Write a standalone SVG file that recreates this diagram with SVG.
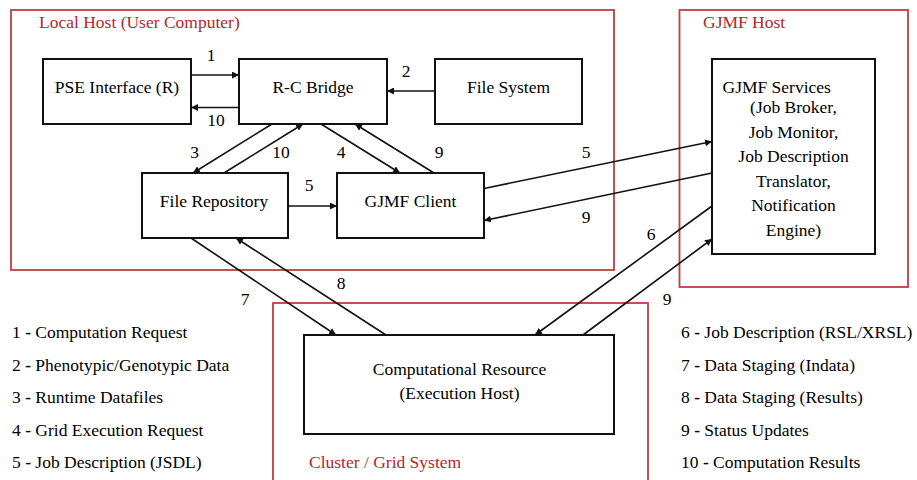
<svg xmlns="http://www.w3.org/2000/svg" width="917" height="480" viewBox="0 0 917 480">
  <style>
    .zone { fill: none; stroke: #bd3f42; stroke-width: 1.8; }
    .zone-title { font-family: 'Liberation Serif', serif; font-size: 17.5px; fill: #b0282d; }
    .box { fill: #fff; stroke: #111; stroke-width: 2; }
    .link { stroke: #111; stroke-width: 1.6; fill: none; marker-end: url(#head); }
  </style>
  <defs>
    <marker id="head" viewBox="0 0 10 10" refX="10" refY="5" markerWidth="7" markerHeight="7" markerUnits="userSpaceOnUse" orient="auto">
      <path d="M0,0 L10,5 L0,10 z" fill="#111"/>
    </marker>
  </defs>

  <rect width="917" height="480" fill="#fff"/>

  <!-- system zones -->
  <g id="zone-local">
    <rect class="zone" x="11" y="10" width="603" height="260"/>
    <text class="zone-title" x="39" y="28">Local Host (User Computer)</text>
  </g>
  <g id="zone-gjmf">
    <rect class="zone" x="679.5" y="10" width="228.5" height="277"/>
    <text class="zone-title" x="703" y="28">GJMF Host</text>
  </g>
  <g id="zone-cluster">
    <rect class="zone" x="273" y="303" width="375" height="190"/>
    <text class="zone-title" x="309" y="467.5">Cluster / Grid System</text>
  </g>

  <!-- components -->
  <g id="pse">
    <rect class="box" x="43" y="59" width="148" height="65"/>
    <text font-family="Liberation Serif" font-size="17.5" text-anchor="middle" x="117" y="93">PSE Interface (R)</text>
  </g>
  <g id="rc-bridge">
    <rect class="box" x="239" y="59" width="148" height="65"/>
    <text font-family="Liberation Serif" font-size="17.5" text-anchor="middle" x="313" y="93">R-C Bridge</text>
  </g>
  <g id="file-system">
    <rect class="box" x="435" y="59" width="147" height="65"/>
    <text font-family="Liberation Serif" font-size="17.5" text-anchor="middle" x="508.5" y="93">File System</text>
  </g>
  <g id="file-repository">
    <rect class="box" x="142" y="173" width="146" height="65"/>
    <text font-family="Liberation Serif" font-size="17.5" text-anchor="middle" x="214" y="207">File Repository</text>
  </g>
  <g id="gjmf-client">
    <rect class="box" x="337" y="173" width="147" height="65"/>
    <text font-family="Liberation Serif" font-size="17.5" text-anchor="middle" x="410.5" y="207">GJMF Client</text>
  </g>
  <g id="gjmf-services">
    <rect class="box" x="712" y="59" width="163" height="195"/>
    <text font-family="Liberation Serif" font-size="17.5" x="722.5" y="93">GJMF Services</text>
    <text font-family="Liberation Serif" font-size="17.5" text-anchor="middle" x="793.5" y="113">(Job Broker,</text>
    <text font-family="Liberation Serif" font-size="17.5" text-anchor="middle" x="793.5" y="137.5">Job Monitor,</text>
    <text font-family="Liberation Serif" font-size="17.5" text-anchor="middle" x="793.5" y="162">Job Description</text>
    <text font-family="Liberation Serif" font-size="17.5" text-anchor="middle" x="793.5" y="186.5">Translator,</text>
    <text font-family="Liberation Serif" font-size="17.5" text-anchor="middle" x="793.5" y="211">Notification</text>
    <text font-family="Liberation Serif" font-size="17.5" text-anchor="middle" x="793.5" y="235.5">Engine)</text>
  </g>
  <g id="compute-resource">
    <rect class="box" x="304" y="335" width="310" height="99"/>
    <text font-family="Liberation Serif" font-size="17.5" text-anchor="middle" x="459.5" y="374.5">Computational Resource</text>
    <text font-family="Liberation Serif" font-size="17.5" text-anchor="middle" x="459.5" y="398.5">(Execution Host)</text>
  </g>

  <!-- numbered flows -->
  <g id="connectors">
    <line class="link" x1="191" y1="75" x2="239" y2="75"/>
    <line class="link" x1="239" y1="107.5" x2="191" y2="107.5"/>
    <line class="link" x1="435" y1="91" x2="387" y2="91"/>
    <line class="link" x1="272" y1="124" x2="193" y2="173"/>
    <line class="link" x1="224" y1="173" x2="303" y2="124"/>
    <line class="link" x1="321" y1="124" x2="400" y2="173"/>
    <line class="link" x1="434" y1="173" x2="355" y2="124"/>
    <line class="link" x1="288" y1="206" x2="337" y2="206"/>
    <line class="link" x1="484" y1="188.5" x2="712" y2="141.5"/>
    <line class="link" x1="712" y1="173" x2="484" y2="220.5"/>
    <line class="link" x1="712" y1="206" x2="535" y2="335"/>
    <line class="link" x1="583" y1="335" x2="712" y2="239"/>
    <line class="link" x1="191" y1="238" x2="336" y2="335"/>
    <line class="link" x1="386" y1="335" x2="236" y2="238"/>

    <text font-family="Liberation Serif" font-size="17.5" text-anchor="middle" x="211" y="61">1</text>
    <text font-family="Liberation Serif" font-size="17.5" text-anchor="middle" x="216" y="126">10</text>
    <text font-family="Liberation Serif" font-size="17.5" text-anchor="middle" x="406" y="77">2</text>
    <text font-family="Liberation Serif" font-size="17.5" text-anchor="middle" x="194.5" y="158">3</text>
    <text font-family="Liberation Serif" font-size="17.5" text-anchor="middle" x="281" y="158">10</text>
    <text font-family="Liberation Serif" font-size="17.5" text-anchor="middle" x="341" y="158">4</text>
    <text font-family="Liberation Serif" font-size="17.5" text-anchor="middle" x="439" y="158">9</text>
    <text font-family="Liberation Serif" font-size="17.5" text-anchor="middle" x="309" y="191">5</text>
    <text font-family="Liberation Serif" font-size="17.5" text-anchor="middle" x="586" y="158">5</text>
    <text font-family="Liberation Serif" font-size="17.5" text-anchor="middle" x="586" y="223">9</text>
    <text font-family="Liberation Serif" font-size="17.5" text-anchor="middle" x="651" y="240">6</text>
    <text font-family="Liberation Serif" font-size="17.5" text-anchor="middle" x="667" y="305">9</text>
    <text font-family="Liberation Serif" font-size="17.5" text-anchor="middle" x="245" y="305">7</text>
    <text font-family="Liberation Serif" font-size="17.5" text-anchor="middle" x="341" y="289">8</text>
  </g>

  <!-- legend -->
  <g id="legend">
    <text font-family="Liberation Serif" font-size="17.5" x="12" y="338">1 <tspan font-weight="bold">-</tspan> Computation Request</text>
    <text font-family="Liberation Serif" font-size="17.5" x="12" y="370.5">2 <tspan font-weight="bold">-</tspan> Phenotypic/Genotypic Data</text>
    <text font-family="Liberation Serif" font-size="17.5" x="12" y="403">3 <tspan font-weight="bold">-</tspan> Runtime Datafiles</text>
    <text font-family="Liberation Serif" font-size="17.5" x="12" y="435.5">4 <tspan font-weight="bold">-</tspan> Grid Execution Request</text>
    <text font-family="Liberation Serif" font-size="17.5" x="12" y="468">5 <tspan font-weight="bold">-</tspan> Job Description (JSDL)</text>
    <text font-family="Liberation Serif" font-size="17.5" x="681" y="338">6 <tspan font-weight="bold">-</tspan> Job Description (RSL/XRSL)</text>
    <text font-family="Liberation Serif" font-size="17.5" x="681" y="370.5">7 <tspan font-weight="bold">-</tspan> Data Staging (Indata)</text>
    <text font-family="Liberation Serif" font-size="17.5" x="681" y="403">8 <tspan font-weight="bold">-</tspan> Data Staging (Results)</text>
    <text font-family="Liberation Serif" font-size="17.5" x="681" y="435.5">9 <tspan font-weight="bold">-</tspan> Status Updates</text>
    <text font-family="Liberation Serif" font-size="17.5" x="681" y="468">10 <tspan font-weight="bold">-</tspan> Computation Results</text>
  </g>
</svg>
